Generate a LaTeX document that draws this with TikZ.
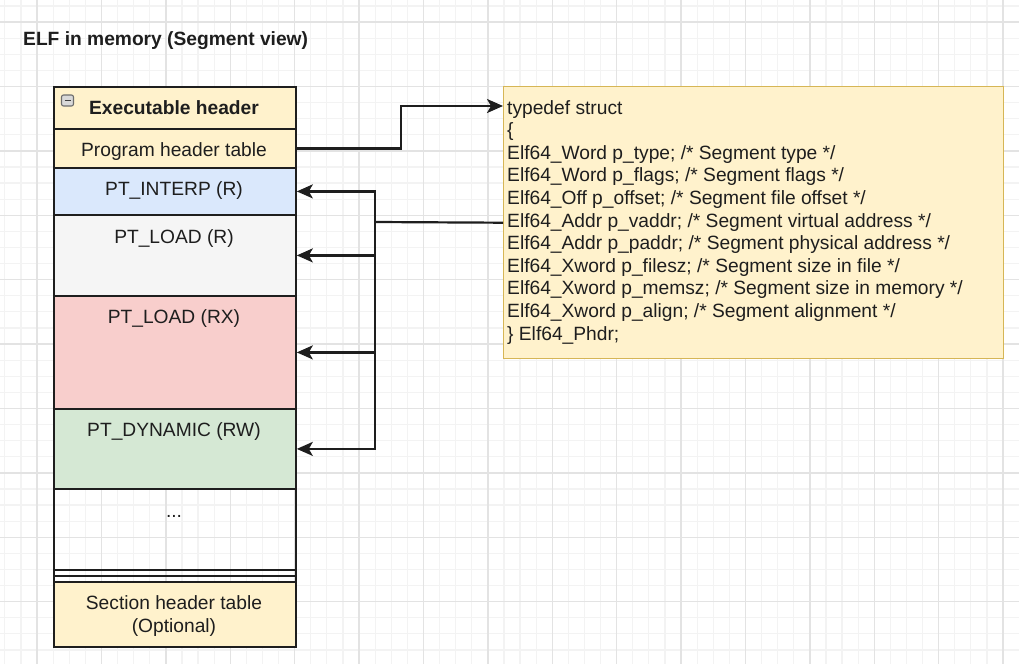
\documentclass[tikz,border=0pt]{standalone}
\usepackage{fontspec}
\setmainfont{Liberation Sans}
\usetikzlibrary{arrows.meta}
\definecolor{gridmajor}{HTML}{E3E3E3}
\definecolor{gridminor}{HTML}{F3F3F3}
\definecolor{ylw}{HTML}{FFF2CC}
\definecolor{ylwline}{HTML}{D6B656}
\definecolor{segblue}{HTML}{DAE8FC}
\definecolor{seggray}{HTML}{F5F5F5}
\definecolor{segred}{HTML}{F8CECC}
\definecolor{seggreen}{HTML}{D5E8D4}
\definecolor{ink}{HTML}{1E1E1E}
\begin{document}
\begin{tikzpicture}[x=1pt,y=-1pt,
  font=\fontsize{19.2}{22.6}\selectfont,
  row/.style={draw=ink, line width=1.8pt, minimum width=242pt,
    anchor=north west, inner sep=0pt},
  lbl/.style={anchor=base, inner sep=0pt, text=ink},
  codeline/.style={anchor=base west, inner sep=0pt, text=ink},
  conn/.style={draw=ink, line width=2.2pt},
  arr/.style={conn, -{Stealth[length=16pt,width=14pt,inset=4pt]}}
]
% page and background grid
\useasboundingbox (0,0) rectangle (1019,664);
\fill[white] (0,0) rectangle (1019,664);
\foreach \i in {0,...,63} \draw[gridminor, line width=1.2pt] ({4.8+16.1*\i},0) -- ++(0,664);
\foreach \i in {0,...,41} \draw[gridminor, line width=1.2pt] (0,{5.9+16.1*\i}) -- ++(1019,0);
\foreach \i in {0,...,15} \draw[gridmajor, line width=1.4pt] ({37+64.4*\i},0) -- ++(0,664);
\foreach \i in {0,...,9} \draw[gridmajor, line width=1.4pt] (0,{22+64.4*\i}) -- ++(1019,0);

% title
\node[anchor=base west, inner sep=0pt, text=ink] (title) at (23,45.5)
  {\bfseries ELF in memory (Segment view)};

% segment stack
\node[row, fill=ylw,      minimum height=42pt]  (exec)   at (53,86)  {};
\node[row, fill=ylw,      minimum height=39pt]  (pht)    at (53,128) {};
\node[row, fill=segblue,  minimum height=47pt]  (interp) at (53,167) {};
\node[row, fill=seggray,  minimum height=81pt]  (loadr)  at (53,214) {};
\node[row, fill=segred,   minimum height=113pt] (loadrx) at (53,295) {};
\node[row, fill=seggreen, minimum height=80pt]  (dyn)    at (53,408) {};
\node[row,                minimum height=81pt]  (more)   at (53,488) {};
\node[row,                minimum height=6pt]   (gapa)   at (53,569) {};
\node[row,                minimum height=6pt]   (gapb)   at (53,575) {};
\node[row, fill=ylw,      minimum height=65pt]  (sht)    at (53,581) {};

% collapse icon of the header
\draw[draw=ink!65, fill=black!15, line width=1.1pt, rounded corners=2pt]
  (61.5,95) rectangle (73.5,106);
\draw[ink!85, line width=1.6pt] (64.5,100.5) -- (70.5,100.5);

% stack labels
\node[lbl] (t-exec)   at (174,114) {\bfseries Executable header};
\node[lbl] (t-pht)    at (174,156) {Program header table};
\node[lbl] (t-interp) at (174,195) {PT\_INTERP (R)};
\node[lbl] (t-loadr)  at (174,243) {PT\_LOAD (R)};
\node[lbl] (t-loadrx) at (174,323) {PT\_LOAD (RX)};
\node[lbl] (t-dyn)    at (174,436) {PT\_DYNAMIC (RW)};
\node[lbl] (t-more)   at (174,517) {...};
\node[lbl] (t-sht)    at (174,609) {Section header table};
\node[lbl] (t-opt)    at (174,632) {(Optional)};

% program header structure
\node[draw=ylwline, fill=ylw, line width=1.4pt, anchor=north west,
  minimum width=500pt, minimum height=272pt, inner sep=0pt] (code) at (503,86) {};
\foreach \t [count=\i from 0] in {
  typedef struct,
  \{,
  Elf64\_Word p\_type; /* Segment type */,
  Elf64\_Word p\_flags; /* Segment flags */,
  Elf64\_Off p\_offset; /* Segment file offset */,
  Elf64\_Addr p\_vaddr; /* Segment virtual address */,
  Elf64\_Addr p\_paddr; /* Segment physical address */,
  Elf64\_Xword p\_filesz; /* Segment size in file */,
  Elf64\_Xword p\_memsz; /* Segment size in memory */,
  Elf64\_Xword p\_align; /* Segment alignment */,
  \} Elf64\_Phdr;}
  \node[codeline] (line\i) at (507,{114+22.6*\i}) {\t};

% connectors
\coordinate (hub) at (375,222);
\draw[arr] (pht.east) -- ++(104,0) |- ([yshift=-20pt]code.north west);
\draw[conn] (code.west) -- (hub);
\draw[arr] (hub) |- (interp.east);
\draw[arr] (hub) |- (loadr.east);
\draw[arr] (hub) |- (loadrx.east);
\draw[arr] (hub) |- (dyn.east);
\end{tikzpicture}
\end{document}
